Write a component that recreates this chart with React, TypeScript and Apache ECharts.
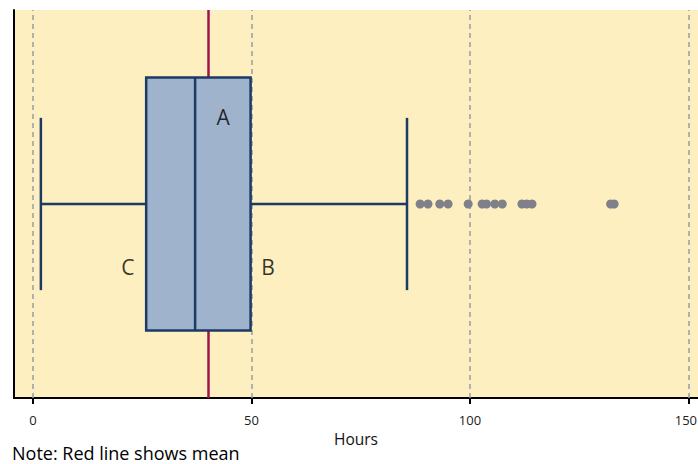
import React, { useEffect, useRef } from "react";
import * as echarts from "echarts";

// Box statistics: min whisker, Q1, median, Q3, max whisker (hours)
const boxStats = [1.8, 25.9, 37.1, 49.8, 85.6];
const boxCenter = 0.5;
const meanValue = 40;
const outliers = [88.6, 90.4, 93.1, 95.0, 99.6, 102.8, 103.8, 105.7, 107.4, 111.9, 113.0, 114.2, 132.2, 133.0];
const tickValues = [0, 50, 100, 150];
const annotationLabels = ["A", "B", "C"];
const annotationX = [43.5, 53.8, 21.7];
const annotationY = [0.724, 0.338, 0.338];

const BOX_HALF = 0.326;
const CAP_HALF = 0.222;
const NAVY = "#1b3a64";
const FONT = "Open Sans";

export default function App() {
  const ref = useRef<HTMLDivElement>(null);
  useEffect(() => {
    if (!ref.current) return;
    const chart = echarts.init(ref.current, undefined, { renderer: "svg" });
    const lastTick = tickValues[tickValues.length - 1];
    const option: any = {
      animation: false,
      textStyle: { fontFamily: FONT },
      grid: {
        left: 14,
        right: 0,
        top: 10,
        bottom: 66,
        show: true,
        backgroundColor: "#feefc0",
        borderWidth: 0,
        containLabel: false,
        outerBoundsMode: "none",
      },
      xAxis: {
        type: "value",
        min: -4.35,
        max: 152.2,
        name: "Hours",
        nameLocation: "middle",
        nameGap: 33,
        nameTextStyle: { fontSize: 15.5, color: "#111", fontFamily: FONT },
        axisLine: { show: true, onZero: false, lineStyle: { color: "#000", width: 2 } },
        axisTick: { show: true, customValues: tickValues, length: 6, lineStyle: { color: "#000", width: 2 } },
        axisLabel: {
          customValues: tickValues,
          margin: 15,
          fontSize: 13,
          color: "#222",
          fontFamily: FONT,
          hideOverlap: false,
          formatter: (v: number) => (v === lastTick ? "{e|" + v + "}" : String(v)),
          rich: { e: { fontSize: 13, color: "#222", fontFamily: FONT, padding: [0, 5, 0, 0] } },
        },
        splitLine: { show: false },
      },
      yAxis: {
        type: "value",
        min: 0,
        max: 1,
        axisLine: { show: true, onZero: false, lineStyle: { color: "#000", width: 2 } },
        axisTick: { show: false },
        axisLabel: { show: false },
        splitLine: { show: false },
      },
      series: [
        {
          type: "scatter",
          data: [],
          z: 1,
          markLine: {
            silent: true,
            z: 1,
            symbol: "none",
            label: { show: false },
            data: [
              ...tickValues.map((v) => ({
                xAxis: v,
                lineStyle: { color: "#9a9aa6", type: [5, 4], width: 1.5 },
              })),
              { xAxis: meanValue, lineStyle: { color: "#a3124e", type: "solid", width: 2.5 } },
            ],
          },
        },
        {
          type: "custom",
          z: 10,
          clip: false,
          data: [[...boxStats, boxCenter]],
          encode: { x: [0, 1, 2, 3, 4], y: 5 },
          renderItem: (params: any, api: any) => {
            const yc = api.value(5);
            const xMin = api.coord([api.value(0), yc])[0];
            const xQ1 = api.coord([api.value(1), yc])[0];
            const xMed = api.coord([api.value(2), yc])[0];
            const xQ3 = api.coord([api.value(3), yc])[0];
            const xMax = api.coord([api.value(4), yc])[0];
            const yMid = api.coord([0, yc])[1];
            const yTop = api.coord([0, yc + BOX_HALF])[1];
            const yBot = api.coord([0, yc - BOX_HALF])[1];
            const cTop = api.coord([0, yc + CAP_HALF])[1];
            const cBot = api.coord([0, yc - CAP_HALF])[1];
            const ls = { stroke: NAVY, lineWidth: 2.5 };
            return {
              type: "group",
              children: [
                { type: "line", shape: { x1: xMin, y1: yMid, x2: xQ1, y2: yMid }, style: ls },
                { type: "line", shape: { x1: xQ3, y1: yMid, x2: xMax, y2: yMid }, style: ls },
                { type: "line", shape: { x1: xMin, y1: cTop, x2: xMin, y2: cBot }, style: ls },
                { type: "line", shape: { x1: xMax, y1: cTop, x2: xMax, y2: cBot }, style: ls },
                {
                  type: "rect",
                  shape: { x: xQ1, y: yTop, width: xQ3 - xQ1, height: yBot - yTop },
                  style: { fill: "#a0b3cc", stroke: NAVY, lineWidth: 2.5 },
                },
                { type: "line", shape: { x1: xMed, y1: yTop, x2: xMed, y2: yBot }, style: ls },
              ],
            };
          },
        },
        {
          type: "scatter",
          z: 11,
          symbolSize: 9,
          itemStyle: { color: "#80808a", opacity: 1 },
          data: outliers.map((v) => [v, boxCenter]),
        },
        {
          type: "scatter",
          z: 12,
          symbolSize: 1,
          itemStyle: { color: "rgba(0,0,0,0)" },
          label: {
            show: true,
            position: "inside",
            formatter: (p: any) => p.name,
            fontSize: 21,
            color: "#000",
            fontFamily: FONT,
          },
          data: annotationLabels.map((n, i) => ({ name: n, value: [annotationX[i], annotationY[i]] })),
        },
      ],
      graphic: [
        {
          type: "text",
          left: 12,
          top: 443,
          style: { text: "Note: Red line shows mean", fontSize: 18, lineHeight: 20, fill: "#000", fontFamily: FONT },
        },
      ],
    };
    chart.setOption(option);
    return () => chart.dispose();
  }, []);
  return <div ref={ref} style={{ width: 698, height: 464, position: "absolute", left: 0, top: 0 }} />;
}
